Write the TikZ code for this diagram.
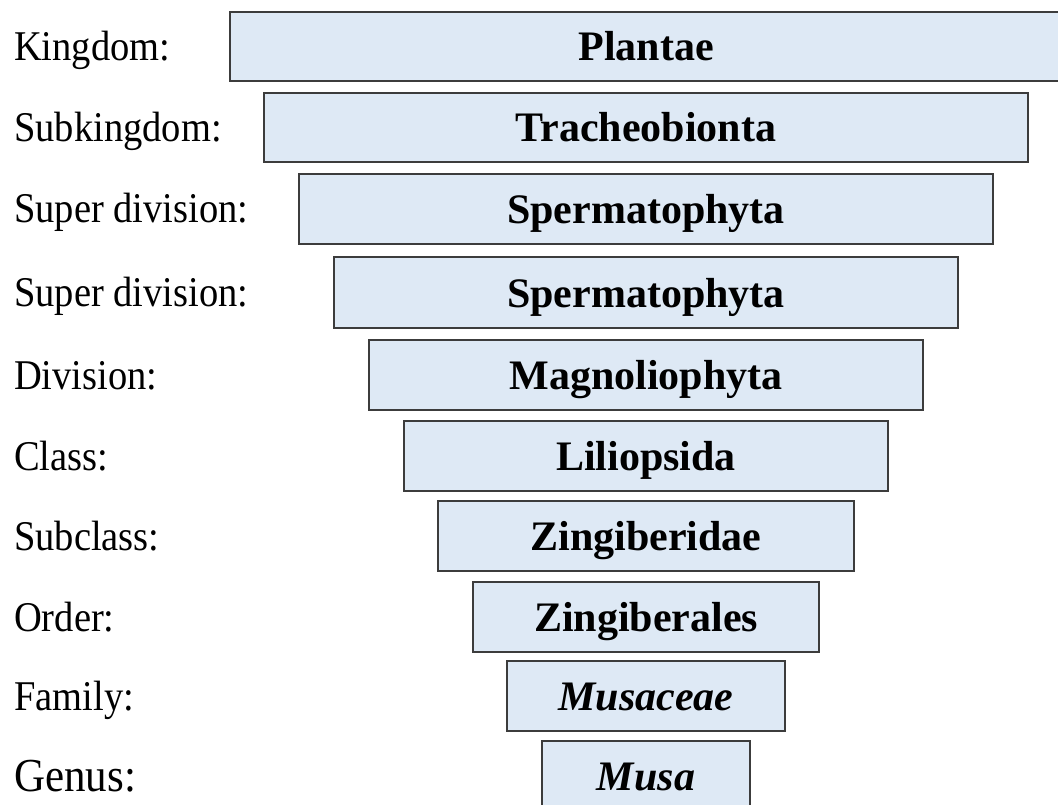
\documentclass[tikz,border=0pt]{standalone}
\usepackage{fontspec}
\setmainfont{Liberation Serif}
\definecolor{boxfill}{HTML}{DEE9F5}
\definecolor{boxline}{HTML}{3C3C3C}
\tikzset{
  rankbox/.style={draw=boxline, fill=boxfill, line width=2.2pt, rectangle,
    inner sep=0pt, minimum height=69pt},
  taxon/.style={anchor=base, inner sep=0pt,
    font=\fontsize{42}{44}\selectfont\bfseries},
  rank/.style={anchor=base west, inner sep=0pt,
    font=\fontsize{38.5}{40}\selectfont}
}
\newcommand{\tall}[1]{\scalebox{1}[1.1]{#1}}
\begin{document}
\begin{tikzpicture}[x=1pt,y=-1pt]
  \useasboundingbox (0,0) rectangle (1058,805);
  % funnel of ranks: left edge, top, bottom, taxon, rank name
  \foreach \i/\l/\t/\b/\name/\rankname in {
      1/230/12/81/Plantae/Kingdom:,
      2/264/93/162/Tracheobionta/Subkingdom:,
      3/299/174/244/Spermatophyta/Super division:,
      4/334/257/328/Spermatophyta/Super division:,
      5/369/340/410/Magnoliophyta/Division:,
      6/404/421/491/Liliopsida/Class:,
      7/438/501/571/Zingiberidae/Subclass:,
      8/473/582/652/Zingiberales/Order:,
      9/507/661/731/\textit{Musaceae}/Family:,
      10/542/741/811/\textit{Musa}/Genus:} {
    \pgfmathsetmacro{\w}{2*(646-\l)}
    \pgfmathsetmacro{\h}{\b-\t}
    \pgfmathsetmacro{\c}{(\t+\b)/2}
    \node[rankbox, minimum width=\w pt, minimum height=\h pt] (r\i) at (646,\c) {};
    \node[taxon] (t\i) at (646,\c+14.5) {\name};
    \ifnum\i<10
      \node[rank] (l\i) at (14,\c+14) {\tall{\rankname}};
    \else
      \node[rank, font=\fontsize{43}{45}\selectfont] (l\i) at (14,\c+15.5) {\tall{\rankname}};
    \fi
  }
\end{tikzpicture}
\end{document}
